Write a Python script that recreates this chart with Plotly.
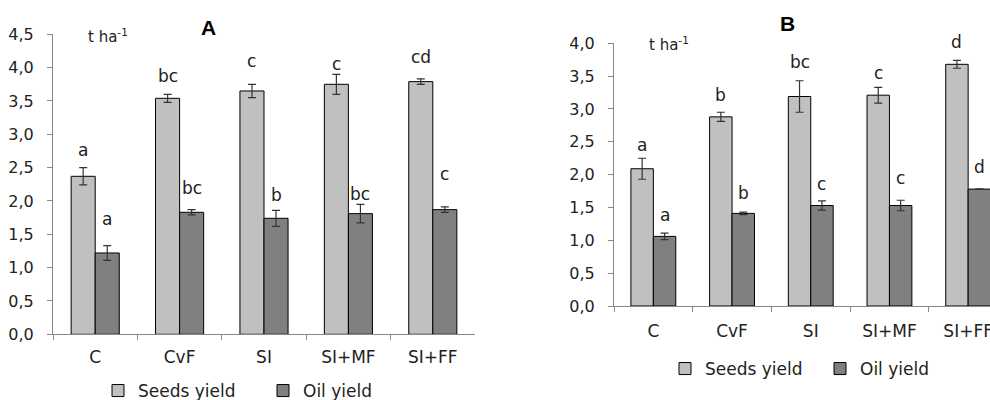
import plotly.graph_objects as go

categories = ["C", "CvF", "SI", "SI+MF", "SI+FF"]

# Panel A
a_seeds = [2.37, 3.54, 3.65, 3.75, 3.79]
a_seeds_err = [0.13, 0.06, 0.10, 0.15, 0.04]
a_oil = [1.22, 1.83, 1.74, 1.81, 1.87]
a_oil_err = [0.11, 0.04, 0.12, 0.14, 0.04]
a_seeds_letters = ["a", "bc", "c", "c", "cd"]
a_oil_letters = ["a", "bc", "b", "bc", "c"]

# Panel B
b_seeds = [2.09, 2.88, 3.19, 3.21, 3.68]
b_seeds_err = [0.16, 0.07, 0.24, 0.12, 0.06]
b_oil = [1.06, 1.41, 1.53, 1.53, 1.78]
b_oil_err = [0.05, 0.02, 0.07, 0.08, 0.005]
b_seeds_letters = ["a", "b", "bc", "c", "d"]
b_oil_letters = ["a", "b", "c", "c", "d"]

# label pixel offsets above error bar tops (style)
a_seeds_shift = [18, 18, 23, 10, 22]
a_oil_shift = [27, 22, 15, 10, 33]
b_seeds_shift = [13, 17, 19, 14, 18]
b_oil_shift = [18, 19, 17, 22, 22]

W, H = 990, 400
FONT = "DejaVu Sans"
SEED_C = "#c0c0c0"
OIL_C = "#808080"
BARGAP = 0.43

fig = go.Figure()

def add_bars(xa, ya, seeds, serr, oil, oerr, leg):
    fig.add_trace(go.Bar(x=categories, y=seeds, name="Seeds yield", xaxis=xa, yaxis=ya,
                         marker=dict(color=SEED_C, line=dict(color="#000", width=1)),
                         error_y=dict(type="data", array=serr, color="#333", thickness=1.2, width=4),
                         legend=leg, hoverinfo="skip"))
    fig.add_trace(go.Bar(x=categories, y=oil, name="Oil yield", xaxis=xa, yaxis=ya,
                         marker=dict(color=OIL_C, line=dict(color="#000", width=1)),
                         error_y=dict(type="data", array=oerr, color="#333", thickness=1.2, width=4),
                         legend=leg, hoverinfo="skip"))

add_bars("x", "y", a_seeds, a_seeds_err, a_oil, a_oil_err, "legend")
add_bars("x2", "y2", b_seeds, b_seeds_err, b_oil, b_oil_err, "legend2")

# geometry (pixels)
ax0, ax1 = 53, 475
ay0, ay1 = 34.3, 334.3
bx0, bx1 = 614, 990
by0, by1 = 43.3, 306
b_cat_w = 78.7
a_cat_w = (ax1 - ax0) / len(categories)
b_range_max = (bx1 - bx0) / b_cat_w - 0.5

def axis_style(size, standoff):
    return dict(showline=True, linecolor="#888", linewidth=1, showgrid=False, zeroline=False,
                ticks="outside", ticklen=5, tickcolor="#888", automargin=False,
                ticklabelstandoff=standoff,
                tickfont=dict(family=FONT, size=size, color="#222"))

fig.update_layout(
    width=W, height=H, margin=dict(l=0, r=0, t=0, b=0, autoexpand=False),
    paper_bgcolor="white", plot_bgcolor="white",
    barmode="group", bargap=BARGAP, bargroupgap=0,
    separators=",.",
    font=dict(family=FONT, color="#222"),
    xaxis=dict(domain=[ax0 / W, ax1 / W], anchor="y", range=[-0.5, 4.5],
               tickson="boundaries", **axis_style(17, 7)),
    yaxis=dict(domain=[1 - ay1 / H, 1 - ay0 / H], anchor="x", range=[0, 4.5], dtick=0.5,
               tickformat=".1f", **axis_style(16, 10)),
    xaxis2=dict(domain=[bx0 / W, bx1 / W], anchor="y2", range=[-0.5, b_range_max],
                tickson="boundaries", **axis_style(17, 10)),
    yaxis2=dict(domain=[1 - by1 / H, 1 - by0 / H], anchor="x2", range=[0, 4.0], dtick=0.5,
                tickformat=".1f", **axis_style(16, 10)),
    legend=dict(orientation="h", x=98 / W, xanchor="left", y=1 - 409 / H, yanchor="bottom",
                font=dict(family=FONT, size=17, color="#222"), bgcolor="rgba(0,0,0,0)",
                entrywidth=120, itemwidth=30, tracegroupgap=0),
    legend2=dict(orientation="h", x=665 / W, xanchor="left", y=1 - 387 / H, yanchor="bottom",
                 font=dict(family=FONT, size=17, color="#222"), bgcolor="rgba(0,0,0,0)",
                 entrywidth=110, itemwidth=30, tracegroupgap=0),
    showlegend=True,
)

annotations = []

def add_letters(xref, yref, vals, errs, letters, shifts, side, cat_w):
    bw = cat_w * (1 - BARGAP) / 2
    for c, v, e, t, s in zip(categories, vals, errs, letters, shifts):
        annotations.append(dict(x=c, y=v + e, xref=xref, yref=yref, text=t, showarrow=False,
                                xshift=side * bw / 2, yshift=s, xanchor="center", yanchor="middle",
                                font=dict(family=FONT, size=17, color="#222")))

add_letters("x", "y", a_seeds, a_seeds_err, a_seeds_letters, a_seeds_shift, -1, a_cat_w)
add_letters("x", "y", a_oil, a_oil_err, a_oil_letters, a_oil_shift, 1, a_cat_w)
add_letters("x2", "y2", b_seeds, b_seeds_err, b_seeds_letters, b_seeds_shift, -1, b_cat_w)
add_letters("x2", "y2", b_oil, b_oil_err, b_oil_letters, b_oil_shift, 1, b_cat_w)

# titles and units
annotations += [
    dict(x=208 / W, y=1 - 27 / H, xref="paper", yref="paper", text="<b>A</b>", showarrow=False,
         xanchor="center", yanchor="middle",
         font=dict(family="Liberation Sans", size=21, color="#000")),
    dict(x=787 / W, y=1 - 23 / H, xref="paper", yref="paper", text="<b>B</b>", showarrow=False,
         xanchor="center", yanchor="middle",
         font=dict(family="Liberation Sans", size=21, color="#000")),
    dict(x=86 / W, y=1 - 36 / H, xref="paper", yref="paper", xanchor="left", yanchor="middle",
         text="t ha<sup>-1</sup>", showarrow=False, font=dict(family=FONT, size=15, color="#222")),
    dict(x=647 / W, y=1 - 44 / H, xref="paper", yref="paper", xanchor="left", yanchor="middle",
         text="t ha<sup>-1</sup>", showarrow=False, font=dict(family=FONT, size=15, color="#222")),
]
fig.update_layout(annotations=annotations)

fig.write_html("out.html", config={"displayModeBar": False, "staticPlot": True},
               post_script="document.body.style.margin='0';document.body.style.overflow='hidden';")
